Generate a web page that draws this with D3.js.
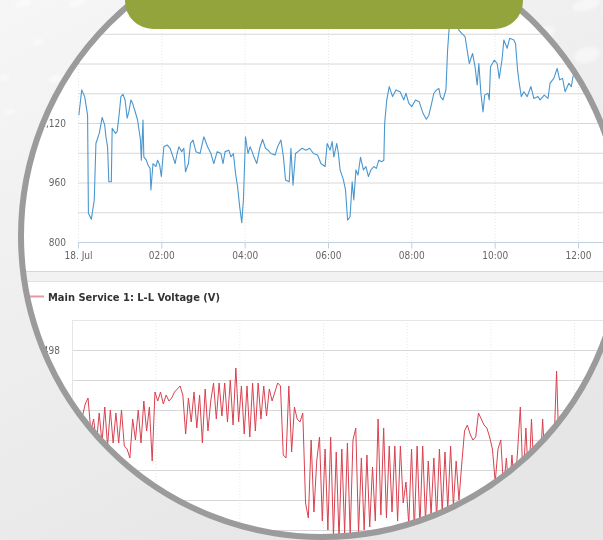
<!DOCTYPE html>
<html>
<head>
<meta charset="utf-8">
<script src="https://cdn.jsdelivr.net/npm/d3@7/dist/d3.min.js"></script>
<style>
  html, body { margin: 0; padding: 0; background: #ececec; }
  svg { display: block; }
  text { font-family: "DejaVu Sans Condensed", "DejaVu Sans", sans-serif; }
</style>
</head>
<body>
<svg id="chart" width="603" height="540"></svg>
<script>
// ---- data ----
const topHours = [0.02, 0.09, 0.16, 0.23, 0.25, 0.32, 0.39, 0.43, 0.51, 0.58, 0.64, 0.67, 0.71, 0.74, 0.80, 0.82, 0.90, 0.94, 0.99,
  1.03, 1.08, 1.13, 1.18, 1.22, 1.27, 1.31, 1.36, 1.43, 1.50, 1.52, 1.56, 1.58, 1.64, 1.68, 1.73, 1.75, 1.80, 1.87, 1.91, 1.96,
  2.00, 2.06, 2.14, 2.21, 2.28, 2.33, 2.38, 2.42, 2.49, 2.54, 2.58, 2.65, 2.70, 2.76, 2.83, 2.93,
  3.02, 3.11, 3.19, 3.26, 3.34, 3.43, 3.48, 3.53, 3.62, 3.67, 3.73, 3.78, 3.83, 3.88, 3.93, 3.97,
  4.02, 4.08, 4.13, 4.18, 4.22, 4.29, 4.36, 4.43, 4.50, 4.56, 4.63, 4.73, 4.79, 4.87, 4.93, 4.98,
  5.07, 5.11, 5.16, 5.22, 5.28, 5.38, 5.47, 5.56, 5.65, 5.75, 5.83, 5.93, 5.98,
  6.05, 6.10, 6.14, 6.21, 6.25, 6.29, 6.37, 6.42, 6.47, 6.53, 6.58, 6.62, 6.67, 6.72, 6.78, 6.85, 6.91, 6.97,
  7.03, 7.10, 7.16, 7.22, 7.29, 7.34, 7.36, 7.41, 7.47, 7.55, 7.63, 7.73, 7.82, 7.87, 7.94,
  8.01, 8.10, 8.19, 8.28, 8.36, 8.42, 8.47, 8.54, 8.61, 8.66, 8.70, 8.76, 8.83, 8.87, 8.91, 8.98,
  9.05, 9.14, 9.21, 9.29, 9.34, 9.39, 9.47, 9.53, 9.58, 9.62, 9.67, 9.72, 9.76, 9.84, 9.87, 9.90, 9.99,
  10.06, 10.11, 10.18, 10.22, 10.30, 10.36, 10.46, 10.50, 10.55, 10.59, 10.64, 10.70, 10.78, 10.87, 10.94,
  11.04, 11.09, 11.19, 11.28, 11.33, 11.42, 11.50, 11.56, 11.63, 11.69, 11.78, 11.84, 11.88, 11.95,
  12.10, 12.30, 12.60];
const topValues = [1141, 1209, 1191, 1141, 877, 861, 913, 1065, 1092, 1135, 1115, 1083, 1056, 962, 962, 1106, 1092, 1097, 1146,
  1191, 1197, 1182, 1133, 1150, 1182, 1173, 1155, 1128, 1074, 1020, 1128, 1029, 1020, 1007, 998, 940, 1011, 1003, 1020, 1007,
  976, 1056, 1061, 1052, 1029, 1011, 1038, 1056, 1043, 1052, 989, 1011, 1065, 1074, 1043, 1038,
  1083, 1056, 1038, 1011, 1043, 1038, 1011, 1043, 1047, 1029, 1038, 985, 949, 895, 852, 913,
  1083, 1038, 1056, 1043, 1029, 1011, 1052, 1076, 1052, 1047, 1038, 1034, 1056, 1074, 1029, 967,
  962, 1052, 953, 1038, 1043, 1052, 1047, 1052, 1038, 1034, 1011, 1003, 1065,
  1047, 1070, 1029, 1065, 1038, 994, 967, 940, 859, 868, 962, 913, 994, 980, 1028, 994, 1003, 976,
  994, 1003, 998, 1020, 1016, 1020, 1119, 1182, 1218, 1191, 1209, 1204, 1182, 1200, 1173,
  1164, 1182, 1177, 1146, 1130, 1141, 1164, 1200, 1209, 1213, 1191, 1182, 1209, 1316, 1379, 1440,
  1425, 1370, 1361, 1352, 1316, 1280, 1307, 1271, 1222, 1280, 1200, 1150, 1195, 1200, 1182, 1271, 1289,
  1280, 1240, 1294, 1343, 1321, 1348, 1343, 1334, 1262, 1227, 1191, 1204, 1191, 1218, 1186,
  1191, 1182, 1195, 1186, 1227, 1240, 1267, 1236, 1240, 1204, 1227, 1218, 1245, 1262,
  1240, 1255, 1230];
const topGridValues = [800, 880, 960, 1040, 1120, 1200, 1280, 1360, 1440];
const topLabelValues = [800, 960, 1120, 1280, 1440];

// voltage samples every 4 minutes starting 00:15
const voltStartHour = 0.25;
const voltStepMinutes = 4;
const voltValues = [
  495.8, 496.2, 496.4, 495.3, 495.7, 494.9, 495.9, 494.9, 496.1, 494.8,
  496.0, 494.9, 495.9, 494.9, 496.0, 494.8, 494.7, 494.4, 495.7, 495.0,
  496.0, 494.9, 496.3, 495.3, 496.1, 494.3, 496.6, 496.3, 496.6, 496.2,
  496.5, 496.3, 496.4, 496.6, 496.7, 496.8, 496.5, 495.2, 496.4, 495.6,
  496.6, 495.4, 496.5, 494.9, 496.7, 495.3, 496.3, 496.9, 495.7, 496.9,
  495.8, 496.9, 495.6, 497.0, 495.5, 497.4, 495.6, 496.8, 495.2, 496.8,
  495.1, 496.9, 495.3, 496.9, 495.7, 496.8, 495.8, 496.7, 496.3, 496.6,
  496.9, 496.8, 494.5, 494.4, 496.8, 494.6, 496.1, 495.7, 495.6, 495.9,
  492.9, 492.4, 495.0, 492.6, 494.3, 495.1, 492.3, 494.7, 492.0, 495.1,
  491.8, 494.6, 491.7, 494.7, 491.9, 494.9, 491.8, 495.0, 495.4, 491.9,
  494.4, 492.0, 494.5, 492.1, 494.1, 492.3, 495.7, 492.5, 495.4, 492.4,
  494.8, 492.6, 494.8, 492.3, 494.8, 492.9, 493.6, 492.2, 494.7, 492.0,
  494.8, 492.1, 494.8, 492.3, 494.3, 492.5, 494.4, 492.4, 494.7, 492.6,
  494.6, 492.7, 494.8, 492.8, 494.3, 493.0, 494.2, 495.3, 495.5, 495.2,
  495.0, 495.1, 495.9, 495.7, 495.5, 495.4, 495.1, 494.7, 493.6, 494.7,
  495.0, 493.4, 494.4, 493.2, 494.5, 493.3, 494.6, 496.1, 493.6, 495.4,
  493.5, 495.7, 493.7, 494.8, 493.8, 495.7, 493.9, 494.9, 494.0, 494.6,
  497.3, 494.3, 494.9, 494.5, 495.0];
const voltGridValues = [499, 498, 497, 496, 495, 494, 493, 492, 491];
const voltLabelValues = [498, 496, 494, 492];

const tickHours = [0, 2, 4, 6, 8, 10, 12];
const legendLabel = 'Main Service 1: L-L Voltage (V)';

// ---- layout ----
const W = 603, H = 540;
const lens = { cx: 322, cy: 236, r: 301 };
const day0 = Date.UTC(2013, 6, 18);
const toDate = h => new Date(day0 + h * 3600e3);
const fontStack = '"DejaVu Sans Condensed", "DejaVu Sans", sans-serif';

const svg = d3.select('#chart');
const defs = svg.append('defs');

const bg = defs.append('linearGradient').attr('id', 'bg')
  .attr('x1', 0).attr('y1', 0).attr('x2', 0.55).attr('y2', 1);
bg.append('stop').attr('offset', 0).attr('stop-color', '#f6f6f6');
bg.append('stop').attr('offset', 1).attr('stop-color', '#e6e6e6');

defs.append('filter').attr('id', 'soft')
  .append('feGaussianBlur').attr('stdDeviation', 1.8);

defs.append('clipPath').attr('id', 'lensClip')
  .append('circle').attr('cx', lens.cx).attr('cy', lens.cy).attr('r', lens.r - 2);

svg.append('rect').attr('width', W).attr('height', H).attr('fill', 'url(#bg)');

// faint white blobs in the backdrop
const blobs = [[23, 3, 9, 4], [77, 3, 9, 4], [38, 42, 6, 3], [55, 79, 7, 4], [4, 78, 6, 3], [10, 112, 6, 3],
  [586, 5, 14, 6], [545, 32, 10, 6], [587, 55, 13, 8]];
svg.append('g').attr('filter', 'url(#soft)')
  .selectAll('ellipse').data(blobs).join('ellipse')
  .attr('cx', d => d[0]).attr('cy', d => d[1]).attr('rx', d => d[2]).attr('ry', d => d[3])
  .attr('transform', d => `rotate(-15 ${d[0]} ${d[1]})`)
  .attr('fill', '#ffffff').attr('opacity', 0.45);

svg.append('circle').attr('cx', lens.cx).attr('cy', lens.cy).attr('r', lens.r).attr('fill', '#ffffff');

const inner = svg.append('g').attr('clip-path', 'url(#lensClip)');

// ---- top chart: power ----
const topBox = { left: 78, right: 640, top: 4, bottom: 242 };
const xTop = d3.scaleUtc().domain([toDate(0), toDate(12)]).range([78, 578]);
const yTop = d3.scaleLinear().domain([800, 1440]).range([topBox.bottom, topBox.top]);
const timeFmt = d => d.getUTCHours() === 0 ? '18. Jul' : d3.utcFormat('%H:%M')(d);

const gTop = inner.append('g');
gTop.selectAll('.vgrid').data(tickHours).join('line')
  .attr('x1', d => xTop(toDate(d)) + 0.5).attr('x2', d => xTop(toDate(d)) + 0.5)
  .attr('y1', 0).attr('y2', topBox.bottom)
  .attr('stroke', '#e6e6e6').attr('stroke-dasharray', '1,2');
gTop.selectAll('.hgrid').data(topGridValues.filter(v => v > 800)).join('line')
  .attr('x1', topBox.left).attr('x2', topBox.right)
  .attr('y1', d => yTop(d) + 0.5).attr('y2', d => yTop(d) + 0.5)
  .attr('stroke', '#d8d8d8');

const xAxisTop = d3.axisBottom(xTop).tickValues(tickHours.map(toDate)).tickFormat(timeFmt)
  .tickSize(6).tickPadding(3);
const axTop = gTop.append('g').attr('transform', `translate(0,${topBox.bottom + 0.5})`).call(xAxisTop);
axTop.select('.domain').attr('d', `M${topBox.left},0H${topBox.right}`).attr('stroke', '#c0d0e0');
axTop.selectAll('.tick line').attr('stroke', '#c0d0e0');
axTop.selectAll('.tick text').attr('fill', '#666').style('font-size', '10px').style('font-family', fontStack);

const yAxisTop = d3.axisLeft(yTop).tickValues(topLabelValues).tickSize(0).tickPadding(12);
const ayTop = gTop.append('g').attr('transform', `translate(${topBox.left},0)`).call(yAxisTop);
ayTop.select('.domain').remove();
ayTop.selectAll('.tick text').attr('fill', '#666').style('font-size', '10px').style('font-family', fontStack);

const topLine = d3.line().x((d, i) => xTop(toDate(topHours[i]))).y(d => yTop(d));
gTop.append('path').datum(topValues)
  .attr('d', topLine).attr('fill', 'none')
  .attr('stroke', '#4a97cf').attr('stroke-width', 1.1).attr('stroke-linejoin', 'round');

// ---- band between the panels ----
inner.append('rect').attr('x', 0).attr('y', 271).attr('width', W).attr('height', 10).attr('fill', '#f2f2f2');
inner.append('line').attr('x1', 0).attr('x2', W).attr('y1', 271.5).attr('y2', 271.5).attr('stroke', '#d6d6d6');
inner.append('line').attr('x1', 0).attr('x2', W).attr('y1', 281.5).attr('y2', 281.5).attr('stroke', '#e2e2e2');

// ---- bottom chart: voltage ----
const botBox = { left: 72, right: 640, top: 320, bottom: 560 };
const xBot = d3.scaleUtc().domain([toDate(0), toDate(12)]).range([72, 574]);
const yBot = d3.scaleLinear().domain([491, 499]).range([botBox.bottom, botBox.top]);

const gBot = inner.append('g');
gBot.selectAll('.vgrid').data(tickHours).join('line')
  .attr('x1', d => xBot(toDate(d)) + 0.5).attr('x2', d => xBot(toDate(d)) + 0.5)
  .attr('y1', botBox.top).attr('y2', botBox.bottom)
  .attr('stroke', '#e6e6e6').attr('stroke-dasharray', '1,2');
gBot.selectAll('.hgrid').data(voltGridValues.filter(v => v < 499)).join('line')
  .attr('x1', botBox.left).attr('x2', botBox.right)
  .attr('y1', d => yBot(d) + 0.5).attr('y2', d => yBot(d) + 0.5)
  .attr('stroke', '#d8d8d8');
gBot.append('path')
  .attr('d', `M${botBox.left + 0.5},${botBox.bottom}V${botBox.top + 0.5}H${botBox.right}`)
  .attr('fill', 'none').attr('stroke', '#e6e6e6');

const yAxisBot = d3.axisLeft(yBot).tickValues(voltLabelValues).tickSize(0).tickPadding(12);
const ayBot = gBot.append('g').attr('transform', `translate(${botBox.left},0)`).call(yAxisBot);
ayBot.select('.domain').remove();
ayBot.selectAll('.tick text').attr('fill', '#666').style('font-size', '10px').style('font-family', fontStack);

const voltLine = d3.line()
  .x((d, i) => xBot(toDate(voltStartHour + i * voltStepMinutes / 60)))
  .y(d => yBot(d));
gBot.append('path').datum(voltValues)
  .attr('d', voltLine).attr('fill', 'none')
  .attr('stroke', '#d9414f').attr('stroke-width', 1).attr('stroke-linejoin', 'round');

// legend
gBot.append('line').attr('x1', 29).attr('x2', 44).attr('y1', 296.5).attr('y2', 296.5)
  .attr('stroke', '#e39aa3').attr('stroke-width', 2);
gBot.append('text').attr('x', 48).attr('y', 300.5)
  .attr('fill', '#333').attr('font-size', 11).attr('font-weight', 'bold')
  .text(legendLabel);

// ---- lens rim and the green tab ----
svg.append('circle').attr('cx', lens.cx).attr('cy', lens.cy).attr('r', lens.r)
  .attr('fill', 'none').attr('stroke', '#9b9b9b').attr('stroke-width', 6);

svg.append('rect').attr('x', 125).attr('y', -40).attr('width', 398).attr('height', 69)
  .attr('rx', 28).attr('ry', 28).attr('fill', '#93a43c');
</script>
</body>
</html>
